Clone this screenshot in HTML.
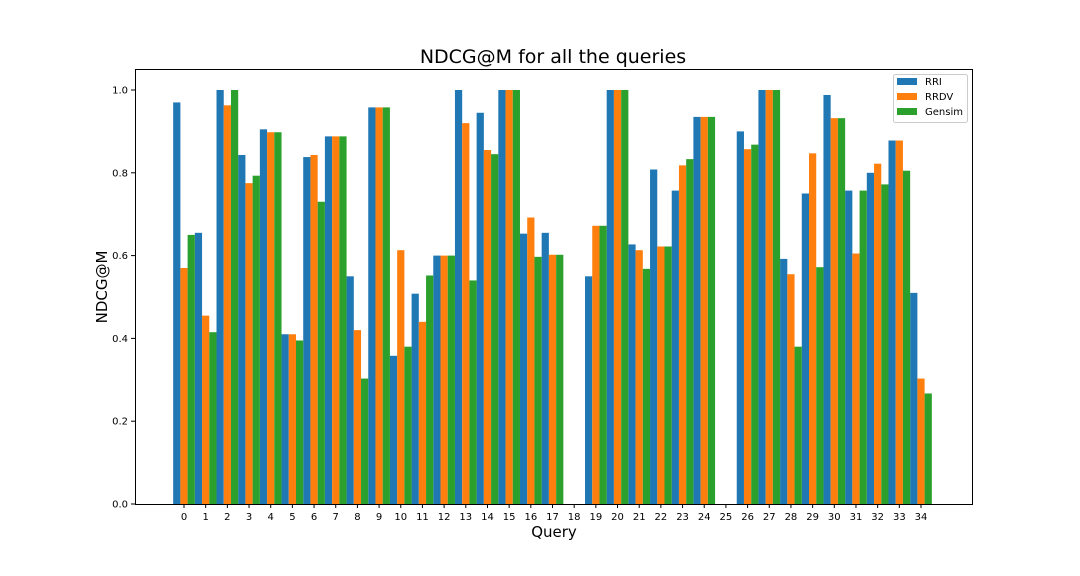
<!DOCTYPE html>
<html><head><meta charset="utf-8"><style>
body{margin:0;background:#fff}
svg{display:block;font-family:"DejaVu Sans","Liberation Sans",sans-serif}
</style></head><body>
<svg id="chart" width="1080" height="576">
<rect width="1080" height="576" fill="#fff"/>
<text x="553" y="63" text-anchor="middle" font-size="19">NDCG@M for all the queries</text>
<g id="bars"></g>
<g id="axes"></g>
<text x="554" y="537" text-anchor="middle" font-size="15">Query</text>
<text transform="translate(107,287) rotate(-90)" text-anchor="middle" font-size="15">NDCG@M</text>
<g>
<rect x="893.5" y="74.5" width="74" height="48" fill="#fff" stroke="#ccc" rx="2"/>
<g><rect x="897" y="78" width="20" height="7" fill="#1f77b4"/><text x="925" y="85" font-size="10">RRI</text></g>
<g><rect x="897" y="93" width="20" height="7" fill="#ff7f0e"/><text x="925" y="100" font-size="10">RRDV</text></g>
<g><rect x="897" y="108" width="20" height="7" fill="#2ca02c"/><text x="925" y="115" font-size="10">Gensim</text></g>
</g>
</svg>
<script>
const categories=[...Array(35).keys()].map(String);
const rri=[0.97,0.655,1.0,0.843,0.905,0.41,0.838,0.888,0.55,0.958,0.358,0.508,0.6,1.0,0.945,1,0.653,0.655,0,0.55,1,0.627,0.808,0.757,0.935,0,0.9,1,0.592,0.75,0.988,0.757,0.8,0.878,0.51];
const rrdv=[0.57,0.455,0.963,0.775,0.898,0.41,0.843,0.888,0.42,0.958,0.613,0.44,0.6,0.92,0.855,1,0.692,0.602,0,0.672,1,0.613,0.622,0.818,0.935,0,0.857,1,0.555,0.847,0.932,0.605,0.822,0.878,0.303];
const gensim=[0.65,0.415,1.0,0.793,0.898,0.395,0.73,0.888,0.303,0.958,0.38,0.552,0.6,0.54,0.845,1,0.597,0.602,0,0.672,1,0.568,0.622,0.833,0.935,0,0.868,1,0.38,0.572,0.932,0.757,0.772,0.805,0.267];
const yTicks=[0,0.2,0.4,0.6,0.8,1.0];
const NS="http://www.w3.org/2000/svg";
const L=135,R=972,T=69,B=504;
const step=(921-184)/34;
const xs=i=>184+i*step;
const ys=v=>504-v*414;
const bw=step/3;
const bars=document.getElementById('bars'),axes=document.getElementById('axes');
function mk(tag,attrs,parent){const e=document.createElementNS(NS,tag);for(const k in attrs)e.setAttribute(k,attrs[k]);parent.appendChild(e);return e;}
[[rri,'#1f77b4',-1,'rri'],[rrdv,'#ff7f0e',0,'rrdv'],[gensim,'#2ca02c',1,'gensim']].forEach(([vals,c,off,n])=>{
 vals.forEach((v,i)=>{
  const r=mk('rect',{x:xs(i)+off*bw-bw/2,y:ys(v),width:bw,height:B-ys(v),fill:c},bars);
  
  
 });
});
const fr=mk('rect',{x:L+0.5,y:T+0.5,width:R-L,height:B-T,fill:'none',stroke:'#000','stroke-width':1},axes);


categories.forEach((c,i)=>{
 mk('line',{x1:xs(i),x2:xs(i),y1:B,y2:B+4,stroke:'#000'},axes);
 const t=mk('text',{x:xs(i),y:B+16,'text-anchor':'middle','font-size':10},axes);
 t.textContent=c;
 
 
});
yTicks.forEach(v=>{
 mk('line',{x1:L-4,x2:L,y1:ys(v),y2:ys(v),stroke:'#000'},axes);
 const t=mk('text',{x:L-7,y:ys(v)+3.5,'text-anchor':'end','font-size':10},axes);
 t.textContent=v.toFixed(1);
 
 
});
</script>
</body></html>
